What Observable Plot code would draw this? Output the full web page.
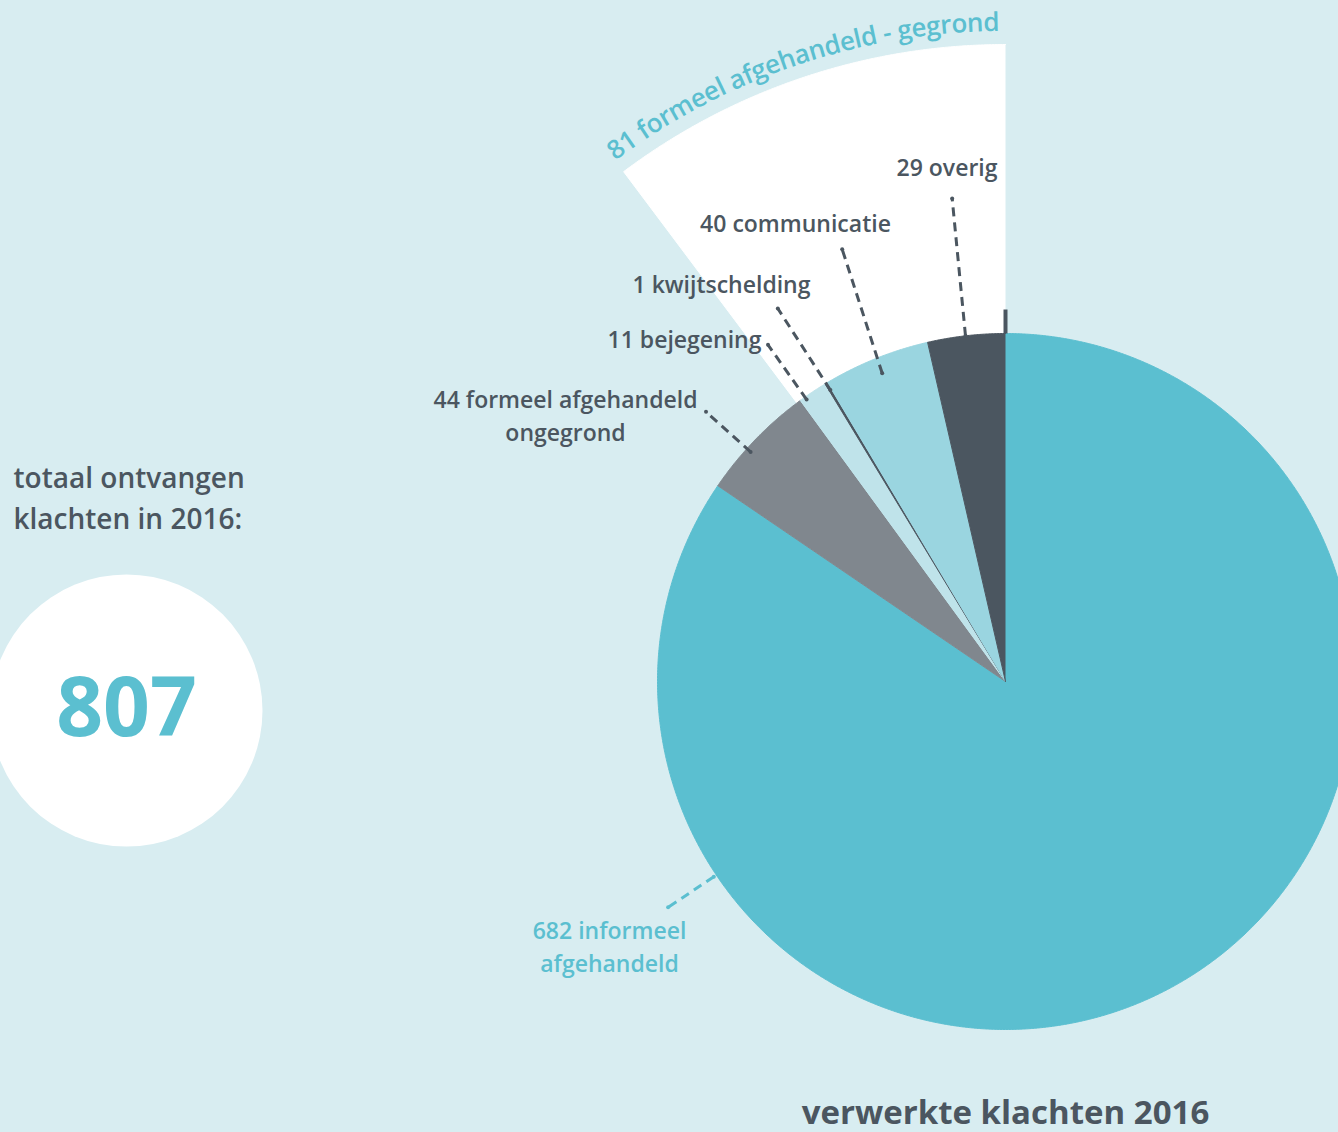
<!DOCTYPE html>
<html>
<head>
<meta charset="utf-8">
<script src="https://cdn.jsdelivr.net/npm/d3@7"></script>
<script src="https://cdn.jsdelivr.net/npm/@observablehq/plot@0.6"></script>
<style>
  html, body { margin: 0; padding: 0; background: #d8edf1; overflow: hidden; }
  #chart svg { display: block; }
</style>
</head>
<body>
<div id="chart"></div>
<script>
// ---------- data ----------
const total = 807;
const totalLabel = "totaal ontvangen\nklachten in 2016:";
const chartTitle = "verwerkte klachten 2016";
const categories = ["informeel\nafgehandeld", "formeel afgehandeld\nongegrond", "bejegening", "kwijtschelding", "communicatie", "overig"];
const values = [682, 44, 11, 1, 40, 29];
const groupName = "formeel afgehandeld - gegrond";
const groupMembers = ["bejegening", "kwijtschelding", "communicatie", "overig"];

// ---------- styles / layout ----------
const sliceColors = ["#5bbfd0", "#80878e", "#bfe3ea", "#4b5660", "#9ad5e0", "#4b5660"];
const labelColors = ["#5bbfd0", "#4b5660", "#4b5660", "#4b5660", "#4b5660", "#4b5660"];
const dark = "#4b5660", blue = "#5bbfd0";
const R = 348, Rwedge = 637, Rtext = 650;
// label anchor positions (relative to pie centre, pixels, y downward) and text anchors
const labelPos = [
  {x: -396, y: 290, anchor: "middle"},
  {x: -440, y: -241, anchor: "middle"},
  {x: -321, y: -334, anchor: "middle"},
  {x: -284, y: -389, anchor: "middle"},
  {x: -210, y: -450, anchor: "middle"},
  {x: -8, y: -506, anchor: "end"}
];
// leader lines: angle (deg) / radius at both ends
const leaders = [
  {a1: 236.2, r1: 351, a2: 236.2, r2: 406},
  {a1: 312.0, r1: 343, a2: 312.0, r2: 403},
  {a1: 324.8, r1: 345, a2: 324.8, r2: 412},
  {a1: 329.0, r1: 340, a2: 328.6, r2: 437},
  {a1: 338.2, r1: 332, a2: 339.3, r2: 462},
  {a1: 353.4, r1: 348, a2: 353.7, r2: 486}
];

// ---------- geometry derived from data ----------
const rad = Math.PI / 180;
const pie = d3.pie().sort(null).value(d => d.value)(categories.map((c, i) => ({c, i, value: values[i]})));
function arcPoints(key, a0, a1, r, color) {
  const pts = [{key, x: 0, y: 0, color}];
  const n = Math.max(2, Math.ceil((a1 - a0) / (0.25 * rad)));
  for (let k = 0; k <= n; k++) {
    const a = a0 + (a1 - a0) * k / n;
    pts.push({key, x: r * Math.sin(a), y: -r * Math.cos(a), color});
  }
  return pts;
}
const slicePts = pie.flatMap((p, i) => arcPoints("s" + i, p.startAngle, p.endAngle, R, sliceColors[i]));
const members = pie.filter(p => groupMembers.includes(categories[p.index]));
const gStart = d3.min(members, p => p.startAngle), gEnd = d3.max(members, p => p.endAngle);
const groupValue = d3.sum(members, p => p.data.value);
const wedgePts = arcPoints("wedge", gStart - 0.7 * rad, gEnd, Rwedge, "white");

const labelData = categories.map((c, i) => ({
  text: values[i] + " " + c, color: labelColors[i], ...labelPos[i]
}));
const leaderData = leaders.map((l, i) => ({
  x1: l.r1 * Math.sin(l.a1 * rad), y1: -l.r1 * Math.cos(l.a1 * rad),
  x2: l.r2 * Math.sin(l.a2 * rad), y2: -l.r2 * Math.cos(l.a2 * rad),
  color: i === 0 ? blue : dark
}));
const leaderEnds = leaderData.flatMap(d => [{x: d.x1, y: d.y1, color: d.color}, {x: d.x2, y: d.y2, color: d.color}]);

const font = "'Open Sans', sans-serif";

function curvedLabel(index, scales) {
  const sx = scales.x, sy = scales.y;
  const a0 = gStart - 0.7 * rad, a1 = gEnd - 0.3 * rad;
  const P = a => [sx(Rtext * Math.sin(a)), sy(-Rtext * Math.cos(a))];
  const [x0, y0] = P(a0), [x1, y1] = P(a1);
  const rr = sx(Rtext) - sx(0);
  const g = d3.create("svg:g");
  g.append("path").attr("id", "grouparc").attr("fill", "none")
    .attr("d", `M${x0},${y0}A${rr},${rr} 0 0 1 ${x1},${y1}`);
  g.append("text").attr("fill", blue).attr("font-size", 26).attr("font-weight", 600)
    .attr("font-family", font).attr("text-anchor", "start")
    .append("textPath").attr("href", "#grouparc").attr("xlink:href", "#grouparc")
    .attr("startOffset", 0)
    .attr("textLength", rr * (a1 - a0) - 2).attr("lengthAdjust", "spacing")
    .text(groupValue + " " + groupName);
  return g.node();
}

const chart = Plot.plot({
  width: 1338,
  height: 1132,
  margin: 0,
  x: {domain: [-1005, 333], range: [0, 1338], axis: null},
  y: {domain: [-681, 451], range: [0, 1132], axis: null},
  style: {background: "#d8edf1", fontFamily: font},
  marks: [
    // white wedge behind the 81 formeel gegrond group
    Plot.line(wedgePts, {x: "x", y: "y", z: "key", fill: "white", stroke: "white", strokeWidth: 1}),
    // pie slices
    Plot.line(slicePts, {x: "x", y: "y", z: "key", fill: "color", stroke: "color", strokeWidth: 1}),
    // small tick at the start of the pie
    Plot.link([{x1: 0, y1: -R, x2: 0, y2: -R - 24}], {x1: "x1", y1: "y1", x2: "x2", y2: "y2", stroke: dark, strokeWidth: 4}),
    // leader lines
    Plot.link(leaderData, {x1: "x1", y1: "y1", x2: "x2", y2: "y2", stroke: "color", strokeWidth: 3, strokeDasharray: "9,6"}),
    Plot.dot(leaderEnds, {x: "x", y: "y", r: 2, fill: "color", stroke: null}),
    // slice labels
    Plot.text(labelData.filter(d => d.anchor === "middle"), {x: "x", y: "y", text: "text", fill: "color", fontSize: 23, fontWeight: 600, textAnchor: "middle", lineAnchor: "bottom", lineHeight: 1.4}),
    Plot.text(labelData.filter(d => d.anchor === "end"), {x: "x", y: "y", text: "text", fill: "color", fontSize: 23, fontWeight: 600, textAnchor: "end", lineAnchor: "bottom"}),
    curvedLabel,
    // total circle
    Plot.dot([{x: -879, y: 29}], {x: "x", y: "y", r: 136, fill: "white", stroke: null}),
    Plot.text([String(total)], {x: -879, y: 54, text: d => d, fill: blue, fontSize: 82, fontWeight: 700, textAnchor: "middle", lineAnchor: "bottom"}),
    Plot.text([totalLabel], {x: -992, y: -153, text: d => d, fill: dark, fontSize: 28, fontWeight: 600, textAnchor: "start", lineAnchor: "bottom", lineHeight: 1.43}),
    // title
    Plot.text([chartTitle], {x: 0, y: 442, text: d => d, fill: dark, fontSize: 33, fontWeight: 700, textAnchor: "middle", lineAnchor: "bottom"})
  ]
});
document.getElementById("chart").append(chart);
</script>
</body>
</html>
